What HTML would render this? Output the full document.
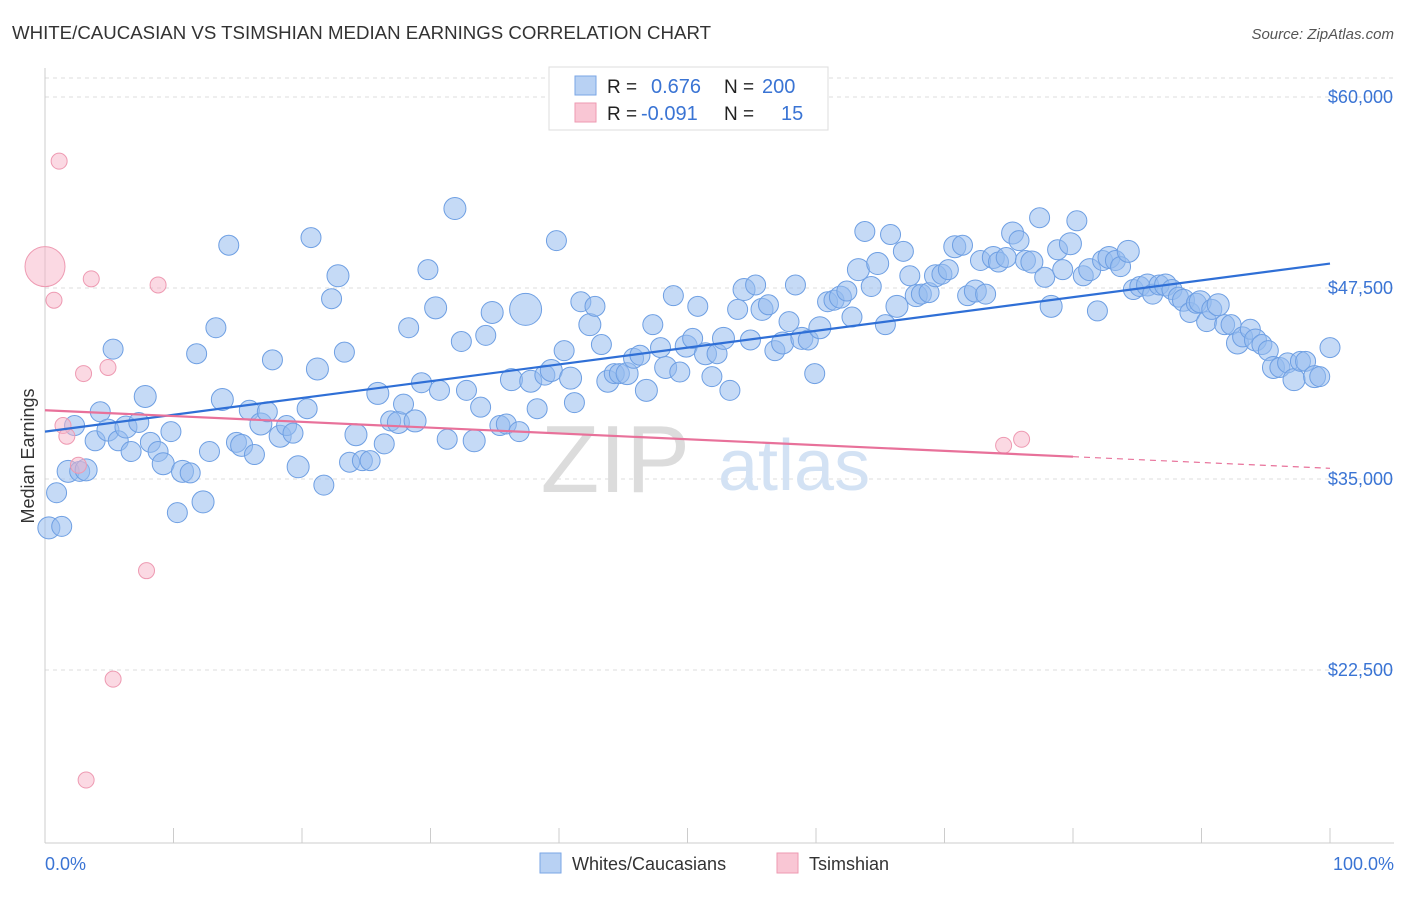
<!DOCTYPE html>
<html><head><meta charset="utf-8">
<style>
body{margin:0;background:#fff;font-family:"Liberation Sans",sans-serif;}
svg text{font-family:"Liberation Sans",sans-serif;}
</style></head>
<body>
<svg id="chart" width="1406" height="892" xmlns="http://www.w3.org/2000/svg">
<text x="12" y="39" font-size="18" fill="#333" textLength="699" lengthAdjust="spacingAndGlyphs">WHITE/CAUCASIAN VS TSIMSHIAN MEDIAN EARNINGS CORRELATION CHART</text>
<text x="1394" y="39" font-size="15" fill="#555" font-style="italic" text-anchor="end">Source: ZipAtlas.com</text>
<g id="grid"></g>
<text x="690" y="492" font-size="96" fill="#dcdcdc" font-family="Liberation Serif" text-anchor="end">ZIP</text>
<text x="718" y="490" font-size="72" fill="#d3e2f4">atlas</text>
<g id="pts"></g>
<g id="lines"></g>
<text x="34" y="456" font-size="18" fill="#333" text-anchor="middle" transform="rotate(-90 34 456)">Median Earnings</text>
<text x="45" y="870" font-size="18" fill="#3a74d4">0.0%</text>
<text x="1394" y="870" font-size="18" fill="#3a74d4" text-anchor="end">100.0%</text>
<g>
<rect x="549" y="67" width="279" height="63" fill="#fff" stroke="#ddd"/>
<rect x="575" y="76" width="21" height="19" fill="#b8d1f3" stroke="#7aa6e6"/>
<rect x="575" y="103" width="21" height="19" fill="#f9c6d4" stroke="#ee9ab2"/>
<text x="607" y="93" font-size="19" fill="#222">R =</text>
<text x="651" y="93" font-size="20" fill="#3a74d4">0.676</text>
<text x="724" y="93" font-size="19" fill="#222">N =</text>
<text x="762" y="93" font-size="20" fill="#3a74d4">200</text>
<text x="607" y="120" font-size="19" fill="#222">R =</text>
<text x="641" y="120" font-size="20" fill="#3a74d4">-0.091</text>
<text x="724" y="120" font-size="19" fill="#222">N =</text>
<text x="781" y="120" font-size="20" fill="#3a74d4">15</text>
</g>
<g>
<rect x="540" y="853" width="21" height="20" fill="#b8d1f3" stroke="#7aa6e6"/>
<text x="572" y="870" font-size="18" fill="#333">Whites/Caucasians</text>
<rect x="777" y="853" width="21" height="20" fill="#f9c6d4" stroke="#ee9ab2"/>
<text x="809" y="870" font-size="18" fill="#333">Tsimshian</text>
</g>
</svg>
<script>
const yTicks=[60000,47500,35000,22500];
const yTickLabels=["$60,000","$47,500","$35,000","$22,500"];
const blueX=[0.3,0.9,1.3,1.8,2.3,2.7,3.2,3.9,4.3,4.9,5.3,5.7,6.3,6.7,7.3,7.8,8.2,8.8,9.2,9.8,10.3,10.7,11.3,11.8,12.3,12.8,13.3,13.8,14.3,14.9,15.3,15.9,16.3,16.8,17.3,17.7,18.3,18.8,19.3,19.7,20.4,20.7,21.2,21.7,22.3,22.8,23.3,23.7,24.2,24.7,25.3,25.9,26.4,26.9,27.5,27.9,28.3,28.8,29.3,29.8,30.4,30.7,31.3,31.9,32.4,32.8,33.4,33.9,34.3,34.8,35.4,35.9,36.3,36.9,37.4,37.8,38.3,38.9,39.4,39.8,40.4,40.9,41.2,41.7,42.4,42.8,43.3,43.8,44.3,44.7,45.3,45.8,46.3,46.8,47.3,47.9,48.3,48.9,49.4,49.9,50.4,50.8,51.4,51.9,52.3,52.8,53.3,53.9,54.4,54.9,55.3,55.8,56.3,56.8,57.4,57.9,58.4,58.9,59.4,59.9,60.3,60.9,61.4,61.9,62.4,62.8,63.3,63.8,64.3,64.8,65.4,65.8,66.3,66.8,67.3,67.8,68.2,68.8,69.3,69.8,70.3,70.8,71.4,71.8,72.4,72.8,73.2,73.8,74.2,74.8,75.3,75.8,76.3,76.8,77.4,77.8,78.3,78.8,79.2,79.8,80.3,80.8,81.3,81.9,82.3,82.8,83.3,83.7,84.3,84.7,85.2,85.8,86.2,86.7,87.2,87.7,88.2,88.6,89.1,89.6,89.9,90.4,90.8,91.3,91.8,92.3,92.8,93.2,93.8,94.2,94.7,95.2,95.6,96.1,96.7,97.2,97.7,98.1,98.8,99.2,100];
const blueY=[31.8,34.1,31.9,35.5,38.5,35.5,35.6,37.5,39.4,38.2,43.5,37.5,38.4,36.8,38.7,40.4,37.4,36.8,36.0,38.1,32.8,35.5,35.4,43.2,33.5,36.8,44.9,40.2,50.3,37.4,37.2,39.5,36.6,38.6,39.4,42.8,37.8,38.5,38.0,35.8,39.6,50.8,42.2,34.6,46.8,48.3,43.3,36.1,37.9,36.2,36.2,40.6,37.3,38.8,38.7,39.9,44.9,38.8,41.3,48.7,46.2,40.8,37.6,52.7,44.0,40.8,37.5,39.7,44.4,45.9,38.5,38.6,41.5,38.1,46.1,41.4,39.6,41.8,42.1,50.6,43.4,41.6,40.0,46.6,45.1,46.3,43.8,41.4,41.9,41.9,41.9,42.9,43.1,40.8,45.1,43.6,42.3,47.0,42.0,43.7,44.2,46.3,43.2,41.7,43.2,44.2,40.8,46.1,47.4,44.1,47.7,46.1,46.4,43.4,43.9,45.3,47.7,44.2,44.1,41.9,44.9,46.6,46.7,46.9,47.3,45.6,48.7,51.2,47.6,49.1,45.1,51.0,46.3,49.9,48.3,47.0,47.1,47.2,48.3,48.4,48.7,50.2,50.3,47.0,47.3,49.3,47.1,49.5,49.2,49.5,51.1,50.6,49.3,49.2,52.1,48.2,46.3,50.0,48.7,50.4,51.9,48.3,48.7,46.0,49.3,49.5,49.3,48.9,49.9,47.4,47.6,47.7,47.1,47.7,47.7,47.4,46.9,46.7,45.9,46.5,46.6,45.3,46.1,46.4,45.1,45.1,43.9,44.3,44.8,44.1,43.8,43.4,42.3,42.3,42.6,41.5,42.7,42.7,41.7,41.7,43.6];
const pinkX=[0,0.7,1.1,3.6,8.8,3.0,4.9,1.4,1.7,2.6,7.9,5.3,3.2,74.6,76.0];
const pinkY=[48.9,46.7,55.8,48.1,47.7,41.9,42.3,38.5,37.8,35.9,29.0,21.9,15.3,37.2,37.6];
const blueTrend=[38.1,49.1];
const pinkTrend=[39.5,35.7];
const pinkSolidEnd=80;

const NS="http://www.w3.org/2000/svg";
function xs(p){return 45+p*12.85;}
function ys(k){return 97+(60-k)*1000*191/12500;}
function mk(t,a){const e=document.createElementNS(NS,t);for(const k in a)e.setAttribute(k,a[k]);return e;}
const grid=document.getElementById('grid');
grid.appendChild(mk('line',{x1:45,y1:78,x2:1394,y2:78,stroke:'#ddd','stroke-dasharray':'4,4'}));
yTicks.forEach((v,i)=>{
  const y=ys(v/1000);
  const l=mk('line',{x1:45,y1:y,x2:1394,y2:y,stroke:'#ddd','stroke-dasharray':'4,4'});
  
  
  grid.appendChild(l);
  const t=mk('text',{x:1393,y:y+6,'font-size':18,fill:'#3a74d4','text-anchor':'end'});
  t.textContent=yTickLabels[i];
  
  
  grid.appendChild(t);
});
grid.appendChild(mk('line',{x1:45,y1:68,x2:45,y2:843,stroke:'#ccc'}));
grid.appendChild(mk('line',{x1:45,y1:843,x2:1394,y2:843,stroke:'#ccc'}));
for(let i=0;i<=10;i++){
  const l=mk('line',{x1:xs(i*10),y1:828,x2:xs(i*10),y2:843,stroke:'#ccc'});
  
  
  grid.appendChild(l);
}
const pts=document.getElementById('pts');
blueX.forEach((x,i)=>{
  const big=(i===74);
  const c=mk('circle',{cx:xs(x),cy:ys(blueY[i]),r:big?16:(i%3===0?11:10),fill:'rgba(150,187,238,0.55)',stroke:'#6e9fe3','stroke-width':1});
  
  
  pts.appendChild(c);
});
pinkX.forEach((x,i)=>{
  const c=mk('circle',{cx:xs(x),cy:ys(pinkY[i]),r:i===0?20:8,fill:'rgba(248,180,200,0.5)',stroke:'#ee9ab2','stroke-width':1});
  
  
  pts.appendChild(c);
});
const lines=document.getElementById('lines');
const bl=mk('line',{x1:xs(0),y1:ys(blueTrend[0]),x2:xs(100),y2:ys(blueTrend[1]),stroke:'#2f6fd6','stroke-width':2.2});


lines.appendChild(bl);
const pe=pinkTrend[0]+(pinkTrend[1]-pinkTrend[0])*pinkSolidEnd/100;
const pl=mk('line',{x1:xs(0),y1:ys(pinkTrend[0]),x2:xs(pinkSolidEnd),y2:ys(pe),stroke:'#e8719a','stroke-width':2.2});


lines.appendChild(pl);
const pd=mk('line',{x1:xs(pinkSolidEnd),y1:ys(pe),x2:xs(100),y2:ys(pinkTrend[1]),stroke:'#e8719a','stroke-width':1.2,'stroke-dasharray':'6,5'});


lines.appendChild(pd);
</script>
</body></html>
